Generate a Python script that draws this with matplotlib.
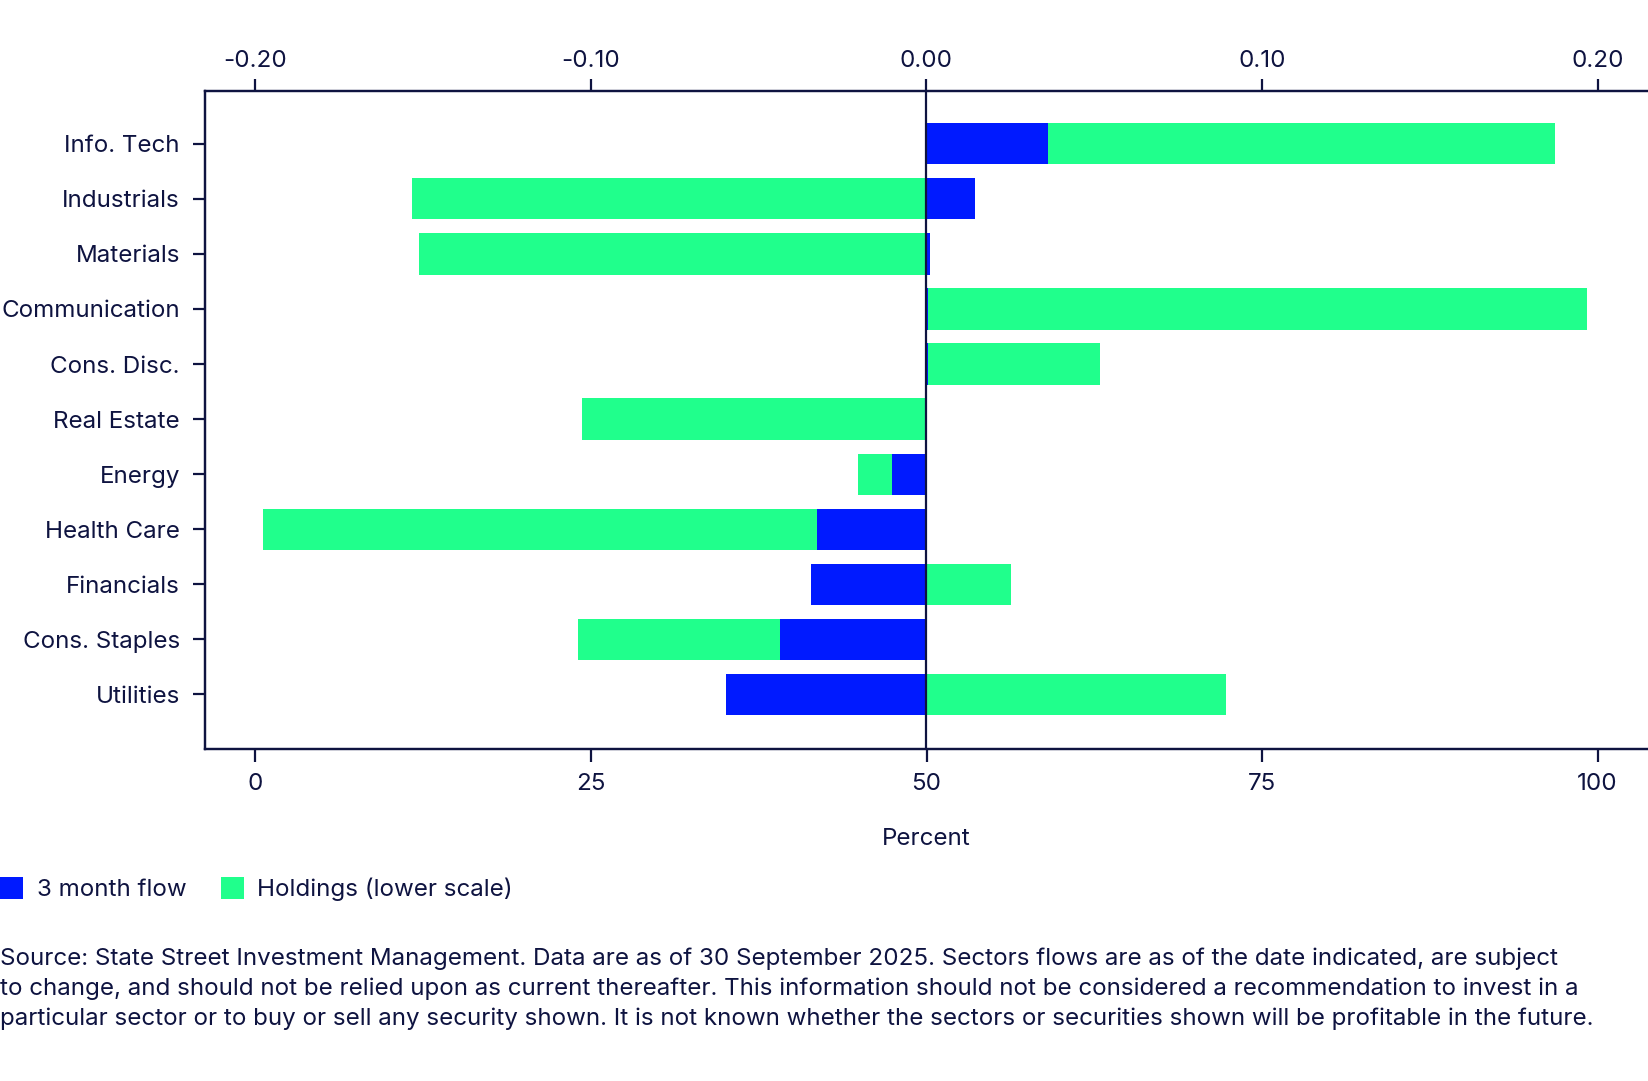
import matplotlib
matplotlib.use("Agg")
import matplotlib.pyplot as plt
from matplotlib.patches import Patch

plt.rcParams['font.family'] = ['Inter', 'DejaVu Sans']

sectors = ["Info. Tech", "Industrials", "Materials", "Communication", "Cons. Disc.",
           "Real Estate", "Energy", "Health Care", "Financials", "Cons. Staples", "Utilities"]
flow_3m = [0.0361, 0.0144, 0.0011, 0.0005, 0.0005, -0.0002, -0.0104, -0.0326, -0.0343, -0.0437, -0.0598]
holdings = [96.8, 11.7, 12.15, 99.25, 62.9, 24.35, 44.9, 0.55, 56.3, 24.05, 72.3]
bottom_ticks = [0, 25, 50, 75, 100]
top_ticks = [-0.20, -0.10, 0.00, 0.10, 0.20]

BLUE = "#001AFF"
GREEN = "#20FF8C"
NAVY = "#0E1340"
FS = 17.4

W, H = 1648, 1081
fig = plt.figure(figsize=(W / 100, H / 100), dpi=100)
ax = fig.add_axes([205 / W, 1 - 749 / H, 1 - 205 / W, (749 - 91.4) / H])
ax2 = ax.twiny()

y = list(range(len(sectors)))
ax.barh(y, [h - 50 for h in holdings], left=50, height=0.75, color=GREEN, zorder=2)
ax2.barh(y, flow_3m, height=0.75, color=BLUE, zorder=2)
ax2.axvline(0, color=NAVY, lw=1.6, zorder=5)

xl = (-3.76, 103.76)
ax.set_xlim(xl)
ax2.set_xlim(((xl[0] - 50) / 250, (xl[1] - 50) / 250))
for a in (ax, ax2):
    a.set_ylim(10.99, -0.95)

ax.set_yticks(y)
ax.set_yticklabels(sectors)
ax.set_xticks(bottom_ticks)
ax.set_xticklabels([str(t) for t in bottom_ticks])
ax2.set_xticks(top_ticks)
ax2.set_xticklabels([f"{t:.2f}" for t in top_ticks])
ax.set_xlabel("Percent", fontsize=FS, color=NAVY, labelpad=23.5)

for a in (ax, ax2):
    for side, sp in a.spines.items():
        sp.set_color(NAVY)
        sp.set_linewidth(1.6)
    a.spines['right'].set_visible(False)
    a.tick_params(colors=NAVY, labelcolor=NAVY, labelsize=FS, width=1.6, length=9, direction='out')
ax.tick_params(axis='x', pad=8.5)
ax2.tick_params(axis='x', pad=5)
ax.tick_params(axis='y', pad=9)
ax2.tick_params(axis='y', left=False, labelleft=False, right=False, labelright=False)

handles = [Patch(facecolor=BLUE, edgecolor='none', label="3 month flow"),
           Patch(facecolor=GREEN, edgecolor='none', label="Holdings (lower scale)")]
fig.legend(handles=handles, loc='center left', bbox_to_anchor=(0, 1 - 889 / H), ncol=2,
           frameon=False, fontsize=FS, handlelength=0.97, handleheight=1.07,
           handletextpad=0.55, columnspacing=1.42, borderpad=0, borderaxespad=0,
           labelcolor=NAVY)

source = ("Source: State Street Investment Management. Data are as of 30 September 2025. Sectors flows are as of the date indicated, are subject\n"
          "to change, and should not be relied upon as current thereafter. This information should not be considered a recommendation to invest in a\n"
          "particular sector or to buy or sell any security shown. It is not known whether the sectors or securities shown will be profitable in the future.")
fig.text(0, 1 - 947 / H, source, fontsize=FS, color=NAVY, va='top', ha='left', linespacing=1.43)

fig.savefig("out.png", dpi=100)
